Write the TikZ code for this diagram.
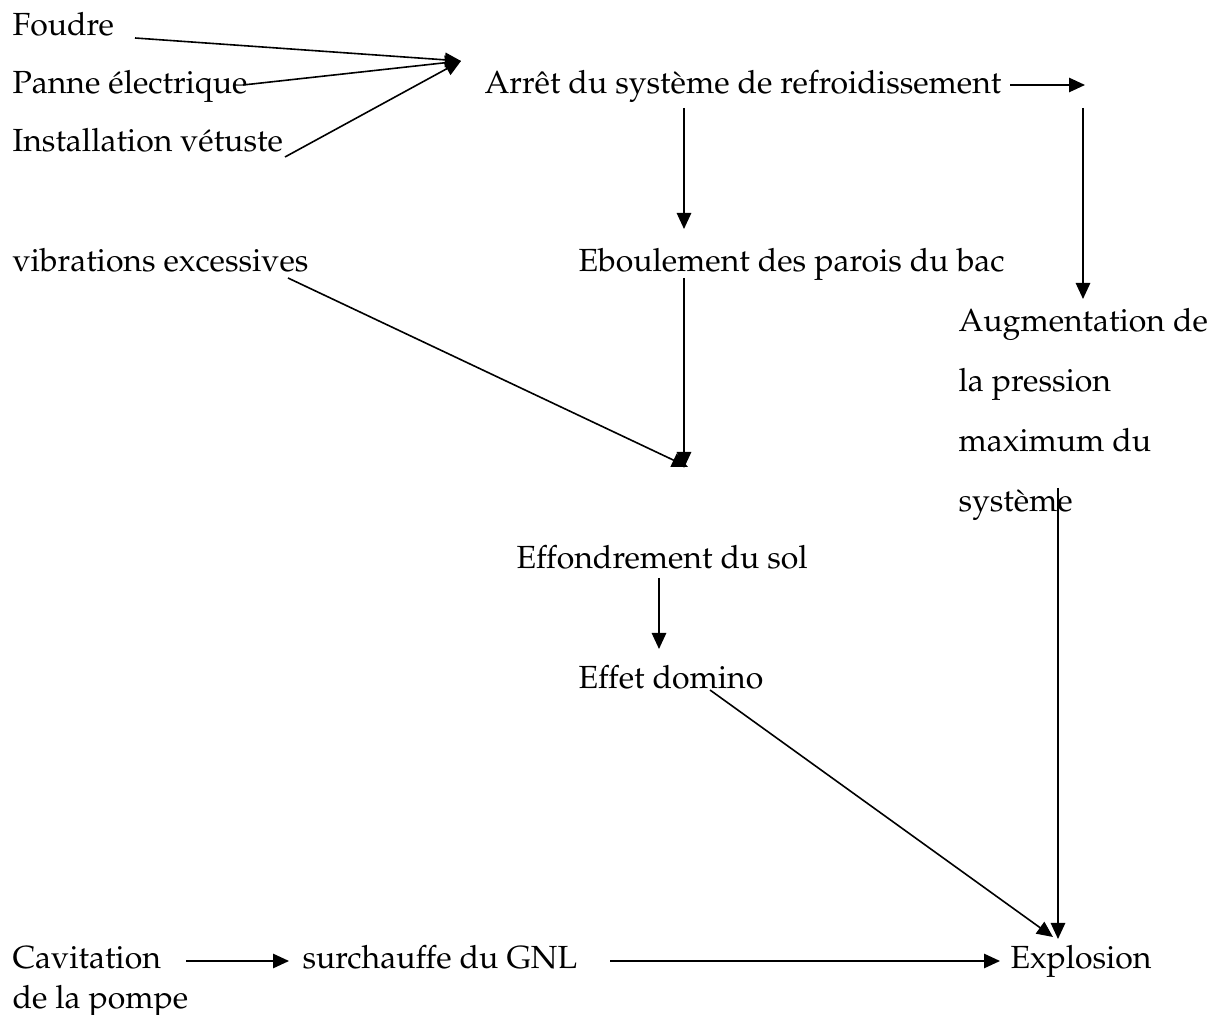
\documentclass[tikz,border=0pt]{standalone}
\usepackage[T1]{fontenc}
\usepackage{mathpazo}
\usetikzlibrary{arrows.meta}
\begin{document}
\begin{tikzpicture}[x=0.375pt,y=-0.375pt,
  lbl/.style={anchor=base west,inner sep=0pt,font=\fontsize{12}{14}\selectfont},
  multi/.style={anchor=north west,inner sep=0pt,align=left},
  arr/.style={-{Triangle[length=6pt,width=5.4pt]},line width=0.6pt},
  ln/.style={line width=0.6pt}]
\useasboundingbox (0,0) rectangle (1216,1015);

% causes on the left
\node[lbl] (foudre) at (12,36) {Foudre};
\node[lbl] (panne) at (12,94) {Panne \'electrique};
\node[lbl] (vetuste) at (12,152) {Installation v\'etuste};
\node[lbl] (vibr) at (12,272) {vibrations excessives};

% central chain
\node[lbl] (arret) at (484,94) {Arr\^et du syst\`eme de refroidissement};
\node[lbl] (ebou) at (578,272) {Eboulement des parois du bac};
\node[lbl] (effon) at (516,569) {Effondrement du sol};
\node[lbl] (domino) at (578,689) {Effet domino};

% right branch
\node[multi,font=\fontsize{12}{22.5}\selectfont] (augm) at (958,308)
  {Augmentation de\\la pression\\maximum du\\syst\`eme};

% bottom row
\node[multi,font=\fontsize{12}{15}\selectfont] (cavit) at (12,946)
  {Cavitation\\de la pompe};
\node[lbl] (surch) at (302,969) {surchauffe du GNL};
\node[lbl] (expl) at (1010,969) {Explosion};

% connector end points
\coordinate (hub) at (461,61);
\coordinate (fo) at (135,38);
\coordinate (pa) at (243,85);
\coordinate (ve) at (285,157);
\coordinate (ar1) at (1010,85);
\coordinate (ar2) at (1085,85);
\coordinate (ard) at (684,108);
\coordinate (ebt) at (684,229);
\coordinate (rtop) at (1083,108);
\coordinate (rbot) at (1083,299);
\coordinate (ebd) at (684,278);
\coordinate (meet) at (684,468);
\coordinate (vib) at (288,278);
\coordinate (meet2) at (688,467);
\coordinate (efd) at (659,578);
\coordinate (dot) at (659,649);
\coordinate (dom) at (710,690);
\coordinate (ex1) at (1053,937);
\coordinate (sys) at (1058,488);
\coordinate (ex2) at (1058,939);
\coordinate (ca1) at (186,961);
\coordinate (ca2) at (289,961);
\coordinate (su1) at (610,961);
\coordinate (su2) at (1000,961);

% connectors
\draw[arr] (fo) -- (hub);
\draw[arr] (pa) -- (hub);
\draw[arr] (ve) -- (hub);
\draw[arr] (ar1) -- (ar2);
\draw[arr] (ard) -- (ebt);
\draw[arr] (rtop) -- (rbot);
\draw[arr] (ebd) -- (meet);
\draw[arr] (vib) -- (meet2);
\draw[arr] (efd) -- (dot);
\draw[arr] (dom) -- (ex1);
\draw[arr] (sys) -- (ex2);
\draw[arr] (ca1) -- (ca2);
\draw[arr] (su1) -- (su2);
\end{tikzpicture}
\end{document}
